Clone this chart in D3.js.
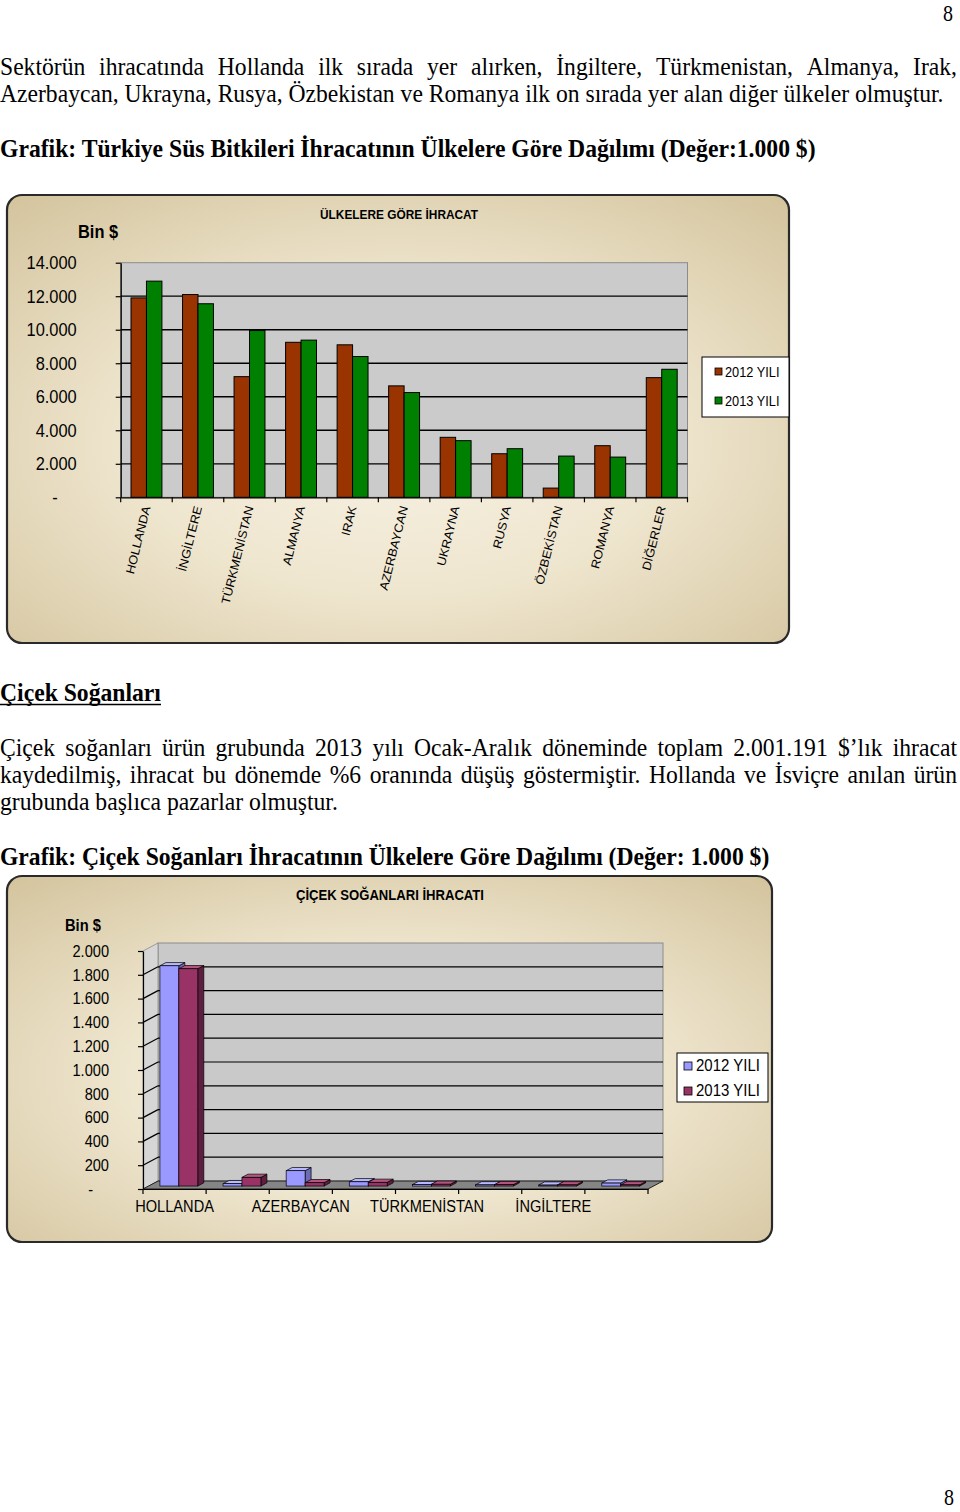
<!DOCTYPE html>
<html>
<head>
<meta charset="utf-8">
<script src="https://cdn.jsdelivr.net/npm/d3@7"></script>
<style>
  body { margin: 0; background: #fff; }
  svg { display: block; }
</style>
</head>
<body>
<svg id="page" width="960" height="1512"></svg>
<script>
// ---- data ----
const countries1 = ["HOLLANDA", "İNGİLTERE", "TÜRKMENİSTAN", "ALMANYA", "IRAK", "AZERBAYCAN",
  "UKRAYNA", "RUSYA", "ÖZBEKİSTAN", "ROMANYA", "DİĞERLER"];
const exp2012 = [11900, 12100, 7200, 9250, 9100, 6650, 3580, 2600, 550, 3080, 7140];
const exp2013 = [12900, 11550, 9950, 9380, 8400, 6250, 3380, 2900, 2460, 2400, 7640];
const yTicks1 = [0, 2000, 4000, 6000, 8000, 10000, 12000, 14000];

// only every other country is labelled on the second chart
const countries2 = ["HOLLANDA", "", "AZERBAYCAN", "", "TÜRKMENİSTAN", "", "İNGİLTERE", ""];
const bulb2012 = [1851, 20, 129, 36, 12, 10, 8, 25];
const bulb2013 = [1826, 73, 28, 31, 15, 12, 10, 10];
const yTicks2 = [0, 200, 400, 600, 800, 1000, 1200, 1400, 1600, 1800, 2000];

const years = ["2012 YILI", "2013 YILI"];

const SANS = "'Liberation Sans', Arial, sans-serif";
const SERIF = "'Liberation Serif', 'Times New Roman', serif";
const SY = 1.12; // the scan is stretched vertically

const svg = d3.select("#page");
const defs = svg.append("defs");

const fmt = d => d === 0 ? "-" : d3.format(",")(d).replace(/,/g, ".");

// text helper, drawn at baseline (x,y) with a vertical stretch
function addText(parent, str, x, y, o = {}) {
  return parent.append("text")
    .attr("transform", `translate(${x},${y}) scale(${o.sx || 1},${o.sy || SY})`)
    .attr("font-family", o.family || SANS)
    .attr("font-size", o.size || 14)
    .attr("font-weight", o.weight || "normal")
    .attr("text-anchor", o.anchor || "start")
    .attr("fill", o.fill || "#000")
    .text(str);
}

// body text: tall condensed Times like in the scan
const BODY_SIZE = 23, BODY_SY = 1.05;
let bodySx = 1;

function measure(str, weight) {
  const tmp = svg.append("text").attr("font-family", SERIF).attr("font-size", BODY_SIZE)
    .attr("font-weight", weight || "normal").text(str);
  const w = tmp.node().getComputedTextLength();
  tmp.remove();
  return w;
}

function bodyLine(str, y, target, o = {}) {
  const t = svg.append("text")
    .attr("font-family", SERIF).attr("font-size", BODY_SIZE)
    .attr("font-weight", o.weight || "normal");
  if (!o.justify) {
    const sx = target / measure(str, o.weight);
    t.attr("transform", `translate(0,${y}) scale(${sx},${BODY_SY})`).text(str);
    return sx;
  }
  // justified: words keep the common condensing, gaps fill the line
  const words = str.split(" ");
  const widths = words.map(wd => measure(wd, o.weight));
  const gap = (target / bodySx - d3.sum(widths)) / (words.length - 1);
  t.attr("transform", `translate(0,${y}) scale(${bodySx},${BODY_SY})`);
  let x = 0;
  words.forEach((wd, i) => {
    t.append("tspan").attr("x", x).text(wd);
    x += widths[i] + gap;
  });
}

// ---- page text ----
addText(svg, "8", 943, 21, { family: SERIF, size: 20 });
addText(svg, "8", 944, 1505, { family: SERIF, size: 20 });

bodySx = bodyLine("Azerbaycan, Ukrayna, Rusya, Özbekistan ve Romanya ilk on sırada yer alan diğer ülkeler olmuştur.", 102, 944);
bodyLine("Sektörün ihracatında Hollanda ilk sırada yer alırken, İngiltere, Türkmenistan, Almanya, Irak,", 75, 957, { justify: true });
bodyLine("Grafik: Türkiye Süs Bitkileri İhracatının Ülkelere Göre Dağılımı (Değer:1.000 $)", 157, 816, { weight: "bold" });

bodyLine("Çiçek Soğanları", 701, 161, { weight: "bold" });
svg.append("line").attr("x1", 0).attr("x2", 161).attr("y1", 704.5).attr("y2", 704.5)
  .attr("stroke", "#000").attr("stroke-width", 1.5);

bodyLine("Çiçek soğanları ürün grubunda 2013 yılı Ocak-Aralık döneminde toplam 2.001.191 $’lık ihracat", 756, 957, { justify: true });
bodyLine("kaydedilmiş, ihracat bu dönemde %6 oranında düşüş göstermiştir. Hollanda ve İsviçre anılan ürün", 783, 957, { justify: true });
bodyLine("grubunda başlıca pazarlar olmuştur.", 810, 338);
bodyLine("Grafik: Çiçek Soğanları İhracatının Ülkelere Göre Dağılımı (Değer: 1.000 $)", 865, 770, { weight: "bold" });

// ---- chart frame background ----
const grad = defs.append("radialGradient").attr("id", "frameGrad")
  .attr("cx", "50%").attr("cy", "55%").attr("r", "75%");
grad.append("stop").attr("offset", "0%").attr("stop-color", "#f6f1e3");
grad.append("stop").attr("offset", "45%").attr("stop-color", "#efe6cf");
grad.append("stop").attr("offset", "100%").attr("stop-color", "#d3c39c");

function frame(x, y, w, h) {
  svg.append("rect").attr("x", x).attr("y", y).attr("width", w).attr("height", h)
    .attr("rx", 15).attr("ry", 15)
    .attr("fill", "url(#frameGrad)")
    .attr("stroke", "#2a2a2a").attr("stroke-width", 2.2);
}

function legend(x, y, w, h, colors, rowY, size) {
  const g = svg.append("g");
  g.append("rect").attr("x", x).attr("y", y).attr("width", w).attr("height", h)
    .attr("fill", "#fff").attr("stroke", "#000").attr("stroke-width", 1);
  years.forEach((name, i) => {
    g.append("rect").attr("x", x + (size > 14 ? 7 : 13)).attr("y", rowY[i] - 4)
      .attr("width", size > 14 ? 8 : 7).attr("height", size > 14 ? 8 : 7)
      .attr("fill", colors[i]).attr("stroke", "#000").attr("stroke-width", 0.8);
    addText(g, name, x + (size > 14 ? 19 : 23), rowY[i] + size * 0.36, { size: size });
  });
}

// =============== CHART 1 ===============
frame(7, 195, 782, 448);

const c1 = { left: 120.7, right: 687.5, top: 262.7, base: 497.3 };
const colors1 = ["#993300", "#008000"];

const x1 = d3.scaleBand().domain(countries1).range([c1.left, c1.right]);
const xs1 = d3.scaleBand().domain([0, 1]).range([x1.bandwidth() * 0.2, x1.bandwidth() * 0.8]);
const y1 = d3.scaleLinear().domain([0, 14000]).range([c1.base, c1.top]);

const ch1 = svg.append("g");
ch1.append("rect").attr("x", c1.left).attr("y", c1.top)
  .attr("width", c1.right - c1.left).attr("height", c1.base - c1.top)
  .attr("fill", "#cbcbcb").attr("stroke", "#8c8c8c").attr("stroke-width", 1);

ch1.selectAll(".grid").data(yTicks1.filter(d => d > 0 && d < 14000)).join("line")
  .attr("x1", c1.left).attr("x2", c1.right)
  .attr("y1", d => y1(d)).attr("y2", d => y1(d))
  .attr("stroke", "#000").attr("stroke-width", 1.3);

const groups1 = ch1.selectAll(".grp").data(countries1).join("g")
  .attr("transform", d => `translate(${x1(d)},0)`);
groups1.selectAll("rect")
  .data((d, i) => [exp2012[i], exp2013[i]])
  .join("rect")
  .attr("x", (d, j) => xs1(j))
  .attr("width", xs1.bandwidth())
  .attr("y", d => y1(d))
  .attr("height", d => y1(0) - y1(d))
  .attr("fill", (d, j) => colors1[j])
  .attr("stroke", "#000").attr("stroke-width", 1);

// y axis
const yAxis1 = ch1.append("g").attr("transform", `translate(${c1.left},0)`)
  .call(d3.axisLeft(y1).tickValues(yTicks1).tickSize(5).tickPadding(39).tickFormat(fmt).tickSizeOuter(0));
yAxis1.select(".domain").attr("stroke", "#000").attr("stroke-width", 1.3);
yAxis1.selectAll(".tick line").attr("stroke", "#000").attr("stroke-width", 1.2);
yAxis1.selectAll(".tick text")
  .attr("font-family", SANS).attr("font-size", 16.4).attr("fill", "#000")
  .attr("transform", `scale(1,${SY})`)
  .attr("dx", d => d === 0 ? -19 : 0);

// x axis with ticks on the band boundaries
const xAxis1 = ch1.append("g").attr("transform", `translate(0,${c1.base})`)
  .call(d3.axisBottom(x1).tickSize(0).tickSizeOuter(0));
xAxis1.select(".domain").attr("stroke", "#000").attr("stroke-width", 1.3);
xAxis1.selectAll(".tick text")
  .attr("font-family", SANS).attr("font-size", 12).attr("fill", "#000")
  .attr("x", 0).attr("y", 0).attr("dy", 0)
  .attr("text-anchor", "end")
  .attr("transform", "translate(4,10) scale(1,1.08) rotate(-75)");
xAxis1.selectAll(".bound").data(countries1.map(d => x1(d)).concat([c1.right])).join("line")
  .attr("x1", d => d).attr("x2", d => d).attr("y1", 0).attr("y2", 5)
  .attr("stroke", "#000").attr("stroke-width", 1.2);

addText(svg, "ÜLKELERE GÖRE İHRACAT", 320, 219, { size: 12, weight: "bold", sx: 0.99 });
addText(svg, "Bin $", 78, 238, { size: 16.4, weight: "bold" });

legend(702, 357, 87, 60, colors1, [372, 401], 12.8);

// =============== CHART 2 (3D columns) ===============
frame(7, 876, 765, 366);

const c2 = { left: 143, right: 648, top: 951, base: 1189 };
const D = [15, -8];            // depth of the box
const t0 = 0.37, t1 = 0.77;    // depth position of the columns
const o0 = [D[0] * t0, D[1] * t0], o1 = [D[0] * t1, D[1] * t1];

const x2 = d3.scaleBand().domain(d3.range(countries2.length)).range([c2.left, c2.right]);
const xs2 = d3.scaleBand().domain([0, 1]).range([x2.bandwidth() * 0.18, x2.bandwidth() * 0.78]);
const y2 = d3.scaleLinear().domain([0, 2000]).range([c2.base, c2.top]);

const ch2 = svg.append("g");
const pts = a => a.map(p => p.join(",")).join(" ");

// back wall
ch2.append("rect").attr("x", c2.left + D[0]).attr("y", c2.top + D[1])
  .attr("width", c2.right - c2.left).attr("height", c2.base - c2.top)
  .attr("fill", "#c9c9c9").attr("stroke", "#8c8c8c").attr("stroke-width", 1);
// side wall
ch2.append("polygon")
  .attr("points", pts([[c2.left, c2.top], [c2.left + D[0], c2.top + D[1]],
    [c2.left + D[0], c2.base + D[1]], [c2.left, c2.base]]))
  .attr("fill", "#d6d6d6").attr("stroke", "#8c8c8c").attr("stroke-width", 0.8);
// floor
ch2.append("polygon")
  .attr("points", pts([[c2.left, c2.base], [c2.right, c2.base],
    [c2.right + D[0], c2.base + D[1]], [c2.left + D[0], c2.base + D[1]]]))
  .attr("fill", "#858585").attr("stroke", "#000").attr("stroke-width", 0.8);

const gridVals2 = yTicks2.filter(d => d > 0 && d < 2000);
ch2.selectAll(".gb").data(gridVals2).join("line")
  .attr("x1", c2.left + D[0]).attr("x2", c2.right + D[0])
  .attr("y1", d => y2(d) + D[1]).attr("y2", d => y2(d) + D[1])
  .attr("stroke", "#000").attr("stroke-width", 1.2);
ch2.selectAll(".gs").data(gridVals2).join("line")
  .attr("x1", c2.left).attr("x2", c2.left + D[0])
  .attr("y1", d => y2(d)).attr("y2", d => y2(d) + D[1])
  .attr("stroke", "#000").attr("stroke-width", 1.2);

// columns
const faces = [
  { front: "#9999ff", top: "#b8b8ff", side: "#6b6bb8" },
  { front: "#993366", top: "#b5557f", side: "#5e1f3f" }
];
const bars2 = [];
countries2.forEach((c, i) => {
  [bulb2012[i], bulb2013[i]].forEach((v, j) => bars2.push({ i, j, v }));
});
const colG = ch2.selectAll(".col").data(bars2).join("g");
colG.each(function (d) {
  const g = d3.select(this);
  const a = x2(d.i) + xs2(d.j), b = a + xs2.bandwidth();
  const yt = y2(d.v), yb = y2(0);
  const f = faces[d.j];
  g.append("polygon")
    .attr("points", pts([[b + o0[0], yt + o0[1]], [b + o1[0], yt + o1[1]],
      [b + o1[0], yb + o1[1]], [b + o0[0], yb + o0[1]]]))
    .attr("fill", f.side).attr("stroke", "#000").attr("stroke-width", 0.7);
  g.append("polygon")
    .attr("points", pts([[a + o0[0], yt + o0[1]], [b + o0[0], yt + o0[1]],
      [b + o1[0], yt + o1[1]], [a + o1[0], yt + o1[1]]]))
    .attr("fill", f.top).attr("stroke", "#000").attr("stroke-width", 0.7);
  g.append("rect").attr("x", a + o0[0]).attr("y", yt + o0[1])
    .attr("width", b - a).attr("height", yb - yt)
    .attr("fill", f.front).attr("stroke", "#000").attr("stroke-width", 0.7);
});

// axes
const yAxis2 = ch2.append("g").attr("transform", `translate(${c2.left},0)`)
  .call(d3.axisLeft(y2).tickValues(yTicks2).tickSize(5).tickPadding(29).tickFormat(fmt).tickSizeOuter(0));
yAxis2.select(".domain").attr("stroke", "#000").attr("stroke-width", 1.2);
yAxis2.selectAll(".tick line").attr("stroke", "#000").attr("stroke-width", 1.2);
yAxis2.selectAll(".tick text")
  .attr("font-family", SANS).attr("font-size", 14.6).attr("fill", "#000")
  .attr("transform", `scale(1,${SY})`)
  .attr("dx", d => d === 0 ? -16 : 0);

const xAxis2 = ch2.append("g").attr("transform", `translate(0,${c2.base})`)
  .call(d3.axisBottom(x2).tickSize(0).tickSizeOuter(0).tickPadding(0).tickFormat(i => countries2[i]));
xAxis2.select(".domain").attr("stroke", "#000").attr("stroke-width", 1.2);
xAxis2.selectAll(".tick text")
  .attr("font-family", SANS).attr("font-size", 14.6).attr("fill", "#000")
  .attr("y", 0).attr("dy", 0)
  .attr("transform", `translate(0,22.5) scale(1,${SY})`);
xAxis2.selectAll(".bound").data(d3.range(countries2.length).map(i => x2(i)).concat([c2.right])).join("line")
  .attr("x1", d => d).attr("x2", d => d).attr("y1", 0).attr("y2", 5)
  .attr("stroke", "#000").attr("stroke-width", 1.2);

addText(svg, "ÇİÇEK SOĞANLARI İHRACATI", 296, 900, { size: 13.5, weight: "bold", sx: 0.97 });
addText(svg, "Bin $", 65, 931, { size: 14.7, weight: "bold" });

legend(677, 1053, 91, 49, ["#9999ff", "#993366"], [1066, 1091], 15);
</script>
</body>
</html>
